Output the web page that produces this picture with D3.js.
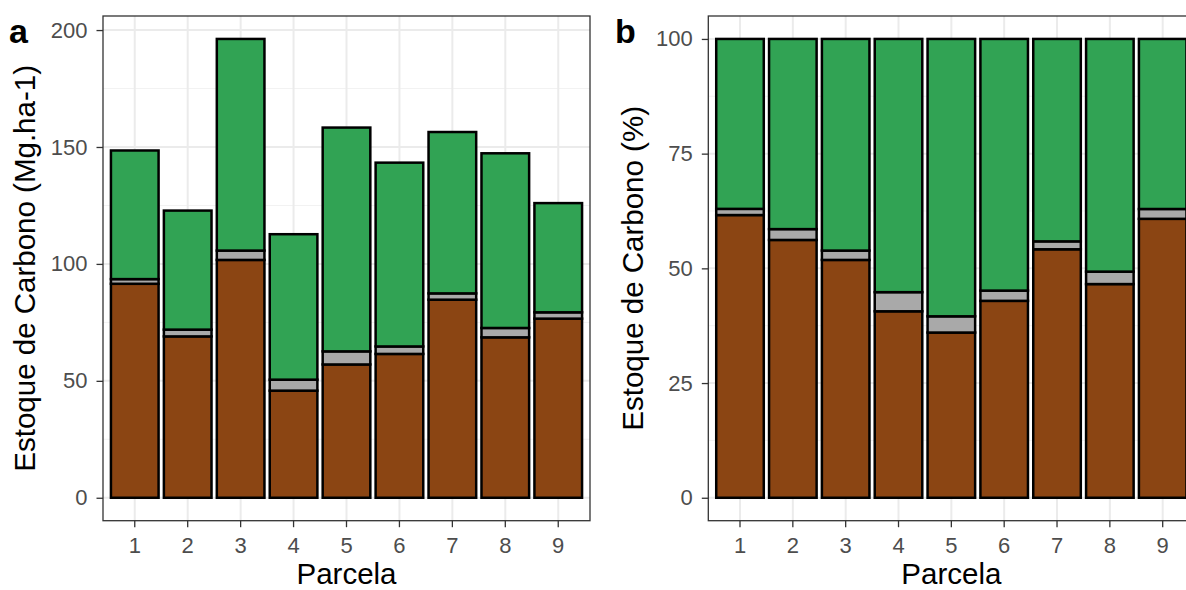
<!DOCTYPE html>
<html>
<head>
<meta charset="utf-8">
<script src="https://cdn.jsdelivr.net/npm/d3@7"></script>
<style>
  html, body { margin: 0; padding: 0; background: #ffffff; }
  svg { display: block; font-family: "Liberation Sans", Arial, Helvetica, sans-serif; }
</style>
</head>
<body>
<svg id="chart" width="1186" height="590"></svg>
<script>
// ---- Data ----
const parcelas = ["1", "2", "3", "4", "5", "6", "7", "8", "9"];
const carbonoSolo = [91.5, 69.0, 101.7, 45.8, 57.0, 61.5, 84.7, 68.6, 76.6];
const carbonoSerapilheira = [2.0, 2.9, 4.0, 4.7, 5.6, 3.2, 2.7, 4.0, 2.7];
const carbonoBiomassa = [55.0, 50.9, 90.5, 62.2, 95.7, 78.6, 69.0, 74.7, 46.7];
const ticksA = [0, 50, 100, 150, 200];
const ticksB = [0, 25, 50, 75, 100];
const componentes = ["solo", "serapilheira", "biomassa"];
const cores = ["#8B4513", "#A9A9A9", "#31A354"];

// table built from the arrays
const tabela = parcelas.map((p, i) => ({
  parcela: p,
  solo: carbonoSolo[i],
  serapilheira: carbonoSerapilheira[i],
  biomassa: carbonoBiomassa[i]
}));

const svg = d3.select("#chart");
const FONT_TICK = 22, FONT_TITLE = 29.5, FONT_TAG = 34;

function drawPanel(cfg) {
  const { x0, x1, y0, y1, offset, yTicks, yFormat, yTitle, titleX, tag, tagX } = cfg;
  const g = svg.append("g");

  const series = d3.stack().keys(componentes).offset(offset)(tabela);
  const maxV = d3.max(series[series.length - 1], d => d[1]);
  const y = d3.scaleLinear().domain([-0.05 * maxV, 1.05 * maxV]).range([y1, y0]);
  const x = d3.scaleBand().domain(parcelas).range([x0, x1]).paddingInner(0.1).paddingOuter(0.15);

  // panel background
  g.append("rect").attr("x", x0).attr("y", y0).attr("width", x1 - x0).attr("height", y1 - y0)
    .attr("fill", "#ffffff");

  // minor grid
  const minor = [];
  for (let i = 0; i < yTicks.length - 1; i++) minor.push((yTicks[i] + yTicks[i + 1]) / 2);
  g.append("g").selectAll("line").data(minor).join("line")
    .attr("x1", x0).attr("x2", x1).attr("y1", d => y(d)).attr("y2", d => y(d))
    .attr("stroke", "#F2F2F2").attr("stroke-width", 1);
  // major grid
  g.append("g").selectAll("line").data(yTicks).join("line")
    .attr("x1", x0).attr("x2", x1).attr("y1", d => y(d)).attr("y2", d => y(d))
    .attr("stroke", "#EBEBEB").attr("stroke-width", 2);
  g.append("g").selectAll("line").data(parcelas).join("line")
    .attr("x1", d => x(d) + x.bandwidth() / 2).attr("x2", d => x(d) + x.bandwidth() / 2)
    .attr("y1", y0).attr("y2", y1)
    .attr("stroke", "#EBEBEB").attr("stroke-width", 2);

  // bars
  series.forEach((s, k) => {
    g.append("g").selectAll("rect").data(s).join("rect")
      .attr("x", d => x(d.data.parcela))
      .attr("width", x.bandwidth())
      .attr("y", d => y(d[1]))
      .attr("height", d => y(d[0]) - y(d[1]))
      .attr("fill", cores[k])
      .attr("stroke", "#000000")
      .attr("stroke-width", 2.5);
  });

  // panel border
  g.append("rect").attr("x", x0).attr("y", y0).attr("width", x1 - x0).attr("height", y1 - y0)
    .attr("fill", "none").attr("stroke", "#333333").attr("stroke-width", 1.3);

  // axes
  const ay = g.append("g").attr("transform", `translate(${x0},0)`)
    .call(d3.axisLeft(y).tickValues(yTicks).tickFormat(yFormat).tickSize(6.5).tickPadding(9));
  const ax = g.append("g").attr("transform", `translate(0,${y1})`)
    .call(d3.axisBottom(x).tickSize(6.5).tickPadding(10));
  [ax, ay].forEach(a => {
    a.select(".domain").remove();
    a.selectAll(".tick line").attr("stroke", "#333333").attr("stroke-width", 1.3);
    a.selectAll(".tick text").attr("fill", "#4D4D4D").attr("font-size", FONT_TICK)
      .attr("font-family", "Liberation Sans, Arial, sans-serif");
  });

  // titles
  g.append("text").attr("x", (x0 + x1) / 2).attr("y", 584)
    .attr("text-anchor", "middle").attr("font-size", FONT_TITLE).attr("fill", "#000")
    .text("Parcela");
  g.append("text")
    .attr("transform", `translate(${titleX},${(y0 + y1) / 2}) rotate(-90)`)
    .attr("text-anchor", "middle").attr("font-size", FONT_TITLE).attr("fill", "#000")
    .text(yTitle);
  g.append("text").attr("x", tagX).attr("y", 43)
    .attr("font-size", FONT_TAG).attr("font-weight", "bold").attr("fill", "#000")
    .text(tag);
}

drawPanel({
  x0: 103, x1: 590, y0: 16, y1: 520.7,
  offset: d3.stackOffsetNone,
  yTicks: ticksA, yFormat: d => d,
  yTitle: "Estoque de Carbono (Mg.ha-1)", titleX: 35,
  tag: "a", tagX: 9
});

drawPanel({
  x0: 708.3, x1: 1194.4, y0: 16, y1: 520.7,
  offset: d3.stackOffsetExpand,
  yTicks: ticksB.map(v => v / 100), yFormat: d => Math.round(d * 100),
  yTitle: "Estoque de Carbono (%)", titleX: 643,
  tag: "b", tagX: 615
});
</script>
</body>
</html>
